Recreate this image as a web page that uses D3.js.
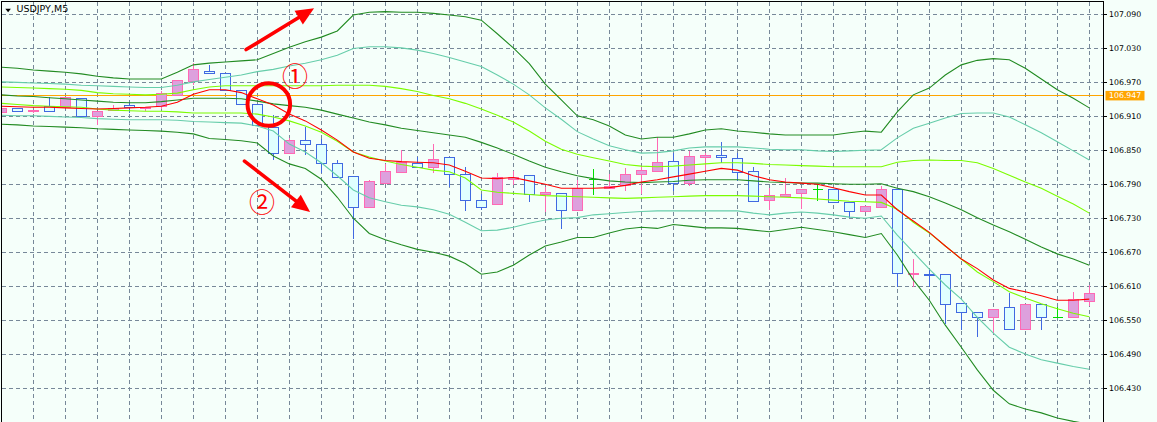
<!DOCTYPE html>
<html><head><meta charset="utf-8">
<script src="https://cdn.jsdelivr.net/npm/d3@7"></script>
<style>
html,body{margin:0;padding:0;background:#f5fffa;}
svg{display:block;}
</style></head><body>
<svg id="chart" width="1157" height="422"></svg>
<script>
// ---------- data ----------
const symbolLabel = "USDJPY,M5";
const open  = [106.918,106.924,106.919,106.928,106.926,106.942,106.911,106.921,106.930,106.924,106.928,106.948,106.972,106.991,106.986,106.956,106.932,106.892,106.846,106.868,106.861,106.827,106.804,106.750,106.793,106.812,106.828,106.820,106.838,106.809,106.763,106.755,106.800,106.806,106.773,106.775,106.745,106.799,106.783,106.789,106.808,106.813,106.831,106.793,106.839,106.842,106.836,106.813,106.763,106.770,106.774,106.781,106.781,106.759,106.742,106.750,106.782,106.632,106.632,106.631,106.580,106.564,106.555,106.573,106.535,106.578,106.555,106.555,106.584];
const high  = [106.925,106.924,106.922,106.945,106.944,106.942,106.919,106.930,106.936,106.927,106.954,106.974,107.005,107.000,106.986,106.956,106.932,106.912,106.871,106.891,106.870,106.833,106.804,106.798,106.826,106.850,106.839,106.861,106.838,106.820,106.773,106.810,106.814,106.806,106.785,106.775,106.798,106.817,106.808,106.819,106.823,106.873,106.845,106.849,106.845,106.864,106.846,106.820,106.783,106.801,106.781,106.790,106.781,106.759,106.751,106.787,106.782,106.658,106.639,106.631,106.580,106.564,106.569,106.597,106.578,106.578,106.574,106.599,106.612];
const low   = [106.918,106.919,106.917,106.919,106.926,106.911,106.896,106.921,106.918,106.921,106.925,106.948,106.968,106.986,106.957,106.932,106.895,106.834,106.846,106.843,106.811,106.803,106.695,106.750,106.793,106.812,106.820,106.812,106.787,106.744,106.747,106.755,106.790,106.761,106.743,106.712,106.745,106.773,106.783,106.780,106.775,106.813,106.780,106.789,106.817,106.830,106.798,106.761,106.746,106.770,106.748,106.763,106.758,106.732,106.742,106.750,106.610,106.610,106.610,106.544,106.534,106.522,106.527,106.535,106.535,106.534,106.555,106.555,106.577];
const close = [106.925,106.919,106.922,106.919,106.944,106.911,106.919,106.925,106.926,106.927,106.951,106.974,106.994,106.986,106.957,106.932,106.895,106.846,106.868,106.861,106.827,106.803,106.750,106.795,106.813,106.830,106.820,106.834,106.809,106.763,106.750,106.802,106.803,106.772,106.776,106.744,106.783,106.799,106.787,106.809,106.816,106.830,106.793,106.840,106.842,106.838,106.812,106.761,106.771,106.772,106.781,106.781,106.758,106.742,106.751,106.781,106.633,106.633,106.630,106.578,106.564,106.555,106.569,106.535,106.578,106.555,106.555,106.587,106.597];

const maRed = [106.928,106.927,106.926,106.926,106.925,106.924,106.923,106.924,106.925,106.926,106.928,106.935,106.949,106.957,106.957,106.952,106.941,106.930,106.914,106.902,106.886,106.868,106.847,106.836,106.832,106.830,106.829,106.828,106.824,106.813,106.801,106.800,106.802,106.796,106.790,106.783,106.783,106.783,106.784,106.788,106.794,106.798,106.803,106.808,106.813,106.818,106.815,106.805,106.798,106.794,106.792,106.790,106.784,106.777,106.771,106.771,106.745,106.725,106.705,106.681,106.658,106.641,106.621,106.606,106.600,106.593,106.585,106.585,106.587];
const bbMid = [106.948,106.946,106.945,106.943,106.941,106.939,106.937,106.935,106.934,106.934,106.936,106.939,106.942,106.942,106.942,106.941,106.937,106.932,106.929,106.926,106.921,106.914,106.907,106.900,106.895,106.889,106.885,106.881,106.877,106.873,106.864,106.854,106.843,106.831,106.820,106.812,106.805,106.800,106.796,106.794,106.793,106.794,106.795,106.797,106.798,106.798,106.798,106.796,106.794,106.793,106.792,106.792,106.791,106.790,106.790,106.791,106.783,106.777,106.768,106.757,106.745,106.731,106.718,106.706,106.693,106.679,106.667,106.658,106.647];
const bbUp1 = [106.962,106.961,106.960,106.959,106.958,106.956,106.952,106.950,106.949,106.948,106.949,106.951,106.957,106.962,106.964,106.964,106.964,106.964,106.964,106.964,106.964,106.965,106.965,106.965,106.963,106.959,106.954,106.947,106.941,106.933,106.923,106.912,106.900,106.884,106.866,106.852,106.843,106.837,106.831,106.825,106.822,106.821,106.822,106.824,106.826,106.828,106.828,106.827,106.825,106.824,106.823,106.822,106.821,106.821,106.821,106.821,106.829,106.832,106.833,106.832,106.832,106.828,106.818,106.806,106.794,106.783,106.769,106.755,106.739];
const bbUp2 = [106.971,106.970,106.969,106.968,106.967,106.965,106.964,106.963,106.962,106.961,106.961,106.965,106.971,106.975,106.979,106.983,106.989,106.993,106.999,107.004,107.010,107.018,107.030,107.033,107.033,107.031,107.027,107.021,107.014,107.006,106.998,106.983,106.967,106.948,106.925,106.905,106.883,106.870,106.858,106.851,106.845,106.846,106.849,106.854,106.856,106.856,106.856,106.854,106.852,106.851,106.851,106.849,106.848,106.849,106.850,106.851,106.872,106.889,106.898,106.907,106.915,106.916,106.916,106.909,106.895,106.881,106.865,106.849,106.833];
const bbUp3 = [106.997,106.995,106.992,106.990,106.988,106.985,106.981,106.978,106.976,106.976,106.976,106.988,107.001,107.004,107.006,107.008,107.010,107.021,107.032,107.042,107.050,107.061,107.089,107.094,107.095,107.094,107.094,107.092,107.089,107.086,107.080,107.056,107.031,107.003,106.967,106.939,106.911,106.904,106.893,106.877,106.870,106.873,106.873,106.879,106.886,106.888,106.884,106.882,106.879,106.877,106.877,106.877,106.877,106.881,106.884,106.882,106.918,106.948,106.960,106.983,107.001,107.009,107.012,107.010,106.995,106.976,106.957,106.942,106.925];
const bbLo1 = [106.933,106.931,106.929,106.928,106.927,106.926,106.923,106.921,106.920,106.919,106.919,106.918,106.916,106.916,106.916,106.916,106.914,106.909,106.902,106.893,106.882,106.866,106.847,106.838,106.831,106.825,106.820,106.815,106.812,106.801,106.780,106.776,106.774,106.772,106.770,106.769,106.768,106.767,106.766,106.765,106.766,106.767,106.768,106.769,106.770,106.770,106.770,106.769,106.768,106.767,106.766,106.764,106.762,106.760,106.759,106.758,106.746,106.723,106.704,106.681,106.658,106.635,106.618,106.600,106.589,106.579,106.570,106.562,106.556];
const bbLo2 = [106.912,106.911,106.911,106.910,106.909,106.908,106.906,106.905,106.904,106.904,106.904,106.903,106.901,106.900,106.899,106.898,106.893,106.884,106.861,106.847,106.828,106.805,106.780,106.766,106.759,106.753,106.750,106.745,106.737,106.723,106.708,106.709,106.714,106.721,106.727,106.730,106.731,106.736,106.738,106.740,106.742,106.743,106.743,106.743,106.743,106.743,106.743,106.739,106.736,106.739,106.741,106.739,106.736,106.732,106.730,106.734,106.700,106.670,106.640,106.612,106.587,106.555,106.527,106.502,106.490,106.480,106.474,106.468,106.463];
const bbLo3 = [106.896,106.895,106.893,106.892,106.891,106.890,106.888,106.887,106.886,106.885,106.884,106.882,106.879,106.871,106.869,106.867,106.863,106.840,106.826,106.818,106.799,106.767,106.730,106.703,106.692,106.683,106.675,106.670,106.663,106.650,106.631,106.635,106.647,106.665,106.681,106.688,106.696,106.696,106.704,106.711,106.714,106.712,106.719,106.716,106.713,106.713,106.712,106.709,106.706,106.710,106.714,106.710,106.706,106.701,106.696,106.703,106.665,106.621,106.585,106.541,106.502,106.462,106.426,106.402,106.393,106.386,106.377,106.371,106.366];

const priceTicks = [106.430,106.490,106.550,106.610,106.670,106.730,106.790,106.850,106.910,106.970,107.030,107.090];
const tickLabels = ["106.430","106.490","106.550","106.610","106.670","106.730","106.790","106.850","106.910","106.970","107.030","107.090"];
const markerPrice = 106.947;
const markerLabel = "106.947";

// annotations in data space: [bar index, price]
const arrowUp   = {from:[15.3,107.028], to:[19.55,107.101]};
const arrowDown = {from:[15.2,106.831], to:[19.3,106.741]};
const ringCenter = [16.72,106.931];
const note1 = {text:"①", at:[18.35,106.979]};
const note2 = {text:"②", at:[16.3,106.757]};

// ---------- layout ----------
const W = 1157, H = 422;
const plot = {left:1.5, top:1.5, right:1103.5, bottom:425};
const svg = d3.select("#chart");

const x = d3.scaleLinear().domain([0, open.length-1]).range([1.3, 1.3 + 16*(open.length-1)]);
const y = d3.scaleLinear().domain([106.430, 107.090]).range([388.0, 14.5]);

const C = {
  bg:"#f5fffa", grid:"#778899", bullFill:"#dda0dd", bullLine:"#ff69b4",
  bearFill:"#e0ffff", bearLine:"#4169e1", doji:"#00dd00",
  dark:"#228b22", teal:"#66cdaa", lime:"#7cfc00", red:"#ff0000", orange:"#ffa500"
};

svg.append("rect").attr("width",W).attr("height",H).attr("fill",C.bg);

svg.append("defs").append("clipPath").attr("id","clip")
  .append("rect").attr("x",plot.left+0.5).attr("y",plot.top+0.5)
  .attr("width",plot.right-plot.left-1).attr("height",plot.bottom-plot.top);

const g = svg.append("g").attr("clip-path","url(#clip)");

// grid
const snap = v => Math.round(v) + 0.5;
g.append("g").selectAll("line").data(priceTicks).join("line")
  .attr("x1",plot.left).attr("x2",plot.right)
  .attr("y1",d=>snap(y(d)-0.5)).attr("y2",d=>snap(y(d)-0.5))
  .attr("stroke",C.grid).attr("stroke-width",1).attr("stroke-dasharray","4,3")
  .attr("shape-rendering","crispEdges");
const gridBars = d3.range(2, open.length, 2);
g.append("g").selectAll("line").data(gridBars).join("line")
  .attr("x1",d=>snap(x(d)-0.5)).attr("x2",d=>snap(x(d)-0.5))
  .attr("y1",plot.top).attr("y2",plot.bottom)
  .attr("stroke",C.grid).attr("stroke-width",1).attr("stroke-dasharray","4,3")
  .attr("shape-rendering","crispEdges");

// orange price line
g.append("line").attr("x1",plot.left).attr("x2",plot.right)
  .attr("y1",snap(y(markerPrice)-0.5)).attr("y2",snap(y(markerPrice)-0.5))
  .attr("stroke",C.orange).attr("stroke-width",1).attr("shape-rendering","crispEdges");

// candles
const bars = open.map((o,i)=>({i, o, h:high[i], l:low[i], c:close[i]}));
const cg = g.append("g").attr("shape-rendering","crispEdges");
bars.forEach(b=>{
  const cx = snap(x(b.i)-0.5);
  const kind = b.c > b.o ? "bull" : (b.c < b.o ? "bear" : "doji");
  const line = kind==="bull" ? C.bullLine : kind==="bear" ? C.bearLine : C.doji;
  cg.append("line").attr("x1",cx).attr("x2",cx)
    .attr("y1",Math.round(y(b.h))).attr("y2",Math.round(y(b.l))+1)
    .attr("stroke",line).attr("stroke-width",1);
  if(kind==="doji"){
    const yy = snap(y(b.o)-0.5);
    cg.append("line").attr("x1",cx-5).attr("x2",cx+5).attr("y1",yy).attr("y2",yy)
      .attr("stroke",line).attr("stroke-width",1);
  } else {
    const top = Math.round(y(Math.max(b.o,b.c)));
    const bot = Math.round(y(Math.min(b.o,b.c)));
    cg.append("rect").attr("x",cx-5).attr("y",top+0.5)
      .attr("width",10).attr("height",Math.max(bot-top,0.01))
      .attr("fill",kind==="bull"?C.bullFill:C.bearFill)
      .attr("stroke",line).attr("stroke-width",1);
  }
});

// indicator lines
const lineGen = d3.line().x((d,i)=>x(i)).y(d=>y(d));
const series = [
  [bbLo3,C.dark],[bbUp3,C.dark],[bbLo2,C.teal],[bbUp2,C.teal],
  [bbLo1,C.lime],[bbUp1,C.lime],[bbMid,C.dark],[maRed,C.red]
];
series.forEach(([vals,col])=>{
  g.append("path").datum(vals).attr("d",lineGen)
    .attr("fill","none").attr("stroke",col).attr("stroke-width",1.1);
});

// frame and price axis
svg.append("path")
  .attr("d",`M${plot.left},${H+2}V${plot.top}H${plot.right}V${H+2}`)
  .attr("fill","none").attr("stroke","#000").attr("stroke-width",1)
  .attr("shape-rendering","crispEdges");
const axis = svg.append("g").attr("font-family","'DejaVu Sans', Tahoma, sans-serif")
  .attr("font-size","7.8px").attr("fill","#000");
axis.selectAll("line").data(priceTicks).join("line")
  .attr("x1",plot.right).attr("x2",plot.right+3)
  .attr("y1",d=>snap(y(d)-0.5)).attr("y2",d=>snap(y(d)-0.5))
  .attr("stroke","#000").attr("shape-rendering","crispEdges");
axis.selectAll("text").data(priceTicks).join("text")
  .attr("x",1109).attr("y",d=>y(d)).attr("dy","0.36em")
  .text((d,i)=>tickLabels[i]);

// current price label
const my = y(markerPrice);
svg.append("rect").attr("x",1105.5).attr("y",my-4.5).attr("width",39).attr("height",9.5)
  .attr("fill",C.orange);
svg.append("text").attr("x",1109).attr("y",my).attr("dy","0.36em")
  .attr("font-family","'DejaVu Sans', Tahoma, sans-serif").attr("font-size","7.8px")
  .attr("fill","#fff").text(markerLabel);

// title
svg.append("path").attr("d","M5.3,8.7H10.9L8.1,12.2Z").attr("fill","#000");
svg.append("text").attr("x",16.5).attr("y",12.2)
  .attr("font-family","'DejaVu Sans', Tahoma, sans-serif").attr("font-size","9.5px")
  .attr("fill","#000").text(symbolLabel);

// annotations
const ann = svg.append("g");
function arrow(a){
  const x0=x(a.from[0]), y0=y(a.from[1]), x1=x(a.to[0]), y1=y(a.to[1]);
  const dx=x1-x0, dy=y1-y0, len=Math.hypot(dx,dy), ux=dx/len, uy=dy/len;
  const hl=18, hw=8;
  const bx=x1-ux*hl, by=y1-uy*hl;
  ann.append("line").attr("x1",x0).attr("y1",y0).attr("x2",bx+ux*2).attr("y2",by+uy*2)
    .attr("stroke",C.red).attr("stroke-width",3.6).attr("stroke-linecap","round");
  ann.append("path")
    .attr("d",`M${x1},${y1}L${bx-uy*hw},${by+ux*hw}L${bx+uy*hw},${by-ux*hw}Z`)
    .attr("fill",C.red);
}
arrow(arrowUp); arrow(arrowDown);
ann.append("circle").attr("cx",x(ringCenter[0])).attr("cy",y(ringCenter[1])).attr("r",21.3)
  .attr("fill","none").attr("stroke",C.red).attr("stroke-width",4);
[note1,note2].forEach(n=>{
  ann.append("text").attr("x",x(n.at[0])).attr("y",y(n.at[1])).attr("dy","0.35em")
    .attr("text-anchor","middle").attr("font-family","'Noto Sans CJK JP', sans-serif")
    .attr("font-size","26px").attr("fill",C.red).text(n.text);
});
</script>
</body></html>
